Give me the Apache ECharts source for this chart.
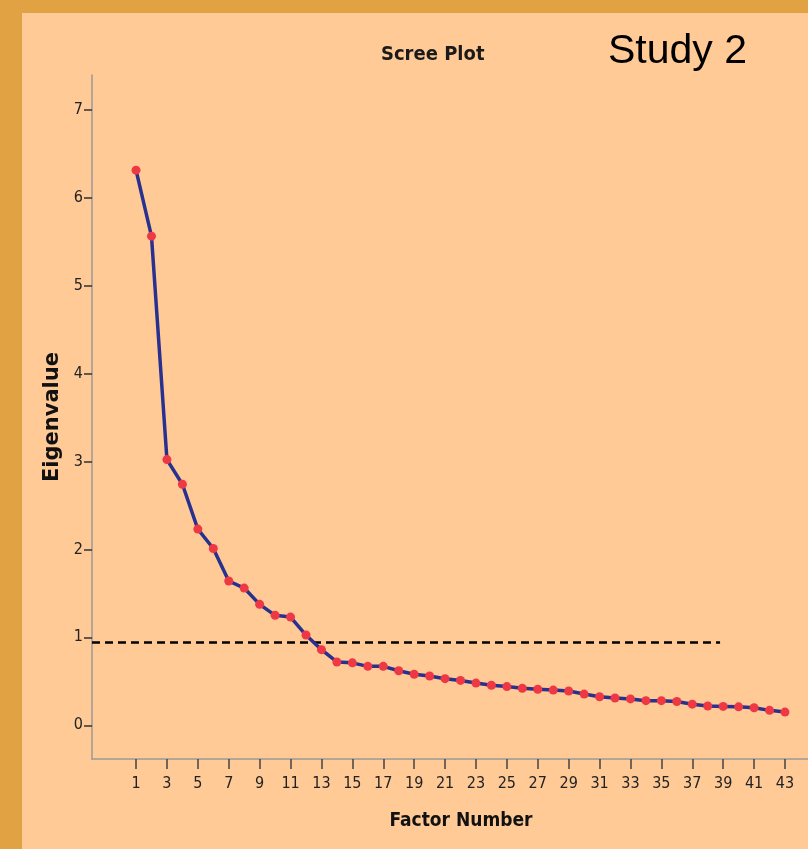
<!DOCTYPE html>
<html>
<head>
<meta charset="utf-8">
<script src="https://cdn.jsdelivr.net/npm/echarts@6/dist/echarts.min.js"></script>
<style>
html,body{margin:0;padding:0;background:#FFCA96;}
#chart{width:808px;height:849px;}
</style>
</head>
<body>
<div id="chart"></div>
<script>
// ---- data ----
const factors = [1,2,3,4,5,6,7,8,9,10,11,12,13,14,15,16,17,18,19,20,21,22,23,24,25,26,27,28,29,30,31,32,33,34,35,36,37,38,39,40,41,42,43];
const eigenvalues = [6.31,5.56,3.02,2.74,2.23,2.01,1.64,1.56,1.375,1.25,1.23,1.026,0.86,0.72,0.71,0.67,0.67,0.62,0.58,0.56,0.53,0.51,0.48,0.455,0.44,0.42,0.41,0.40,0.39,0.355,0.325,0.31,0.30,0.28,0.28,0.27,0.24,0.22,0.215,0.21,0.20,0.17,0.15];
const xTickValues = [1,3,5,7,9,11,13,15,17,19,21,23,25,27,29,31,33,35,37,39,41,43];
const yTickValues = [0,1,2,3,4,5,6,7];
const cutoffValue = 0.94;
const cutoffStart = -1.85;
const cutoffEnd = 38.8;

const narrow = '"Liberation Sans Narrow", "Arial Narrow", "DejaVu Sans Condensed", sans-serif';

const chart = echarts.init(document.getElementById('chart'), null, {renderer:'canvas'});
chart.setOption({
  backgroundColor: '#FFCA96',
  animation: false,
  graphic: [
    {type:'rect', left:0, top:0, shape:{width:22, height:849}, style:{fill:'#E1A243'}, z:-10},
    {type:'rect', left:0, top:0, shape:{width:808, height:13}, style:{fill:'#E1A243'}, z:-10}
  ],
  title: [
    {text:'Scree Plot', left:376, top:40, textStyle:{fontFamily:narrow, fontWeight:'bold', fontSize:20, color:'#1a1a1a'}},
    {text:'Study 2', left:603, top:26, textStyle:{fontFamily:'"Liberation Sans", Arial, sans-serif', fontWeight:'normal', fontSize:41, color:'#000'}}
  ],
  grid: {left:92, top:75, right:0, bottom:90, containLabel:false},
  xAxis: {
    type:'value', min:-1.85, max:44.49,
    name:'Factor Number', nameLocation:'middle', nameGap:53,
    nameTextStyle:{fontFamily:narrow, fontWeight:'bold', fontSize:19, color:'#111', padding:[0,0,0,22]},
    axisLine:{show:true, onZero:false, lineStyle:{color:'#9a9a9a', width:1.5}},
    axisTick:{show:true, length:10, customValues:xTickValues, lineStyle:{color:'#444', width:1.5}},
    axisLabel:{customValues:xTickValues, margin:17, fontFamily:narrow, fontSize:16, color:'#222'},
    splitLine:{show:false}
  },
  yAxis: {
    type:'value', min:-0.383, max:7.392,
    name:'Eigenvalue', nameLocation:'middle', nameRotate:90, nameGap:22,
    nameTextStyle:{fontFamily:'"DejaVu Sans", sans-serif', fontWeight:'bold', fontSize:21, color:'#111'},
    axisLine:{show:true, onZero:false, lineStyle:{color:'#9a9a9a', width:1.5}},
    axisTick:{show:true, length:8, customValues:yTickValues, lineStyle:{color:'#333', width:1.5}},
    axisLabel:{customValues:yTickValues, margin:9, fontFamily:narrow, fontSize:16, color:'#222'},
    splitLine:{show:false}
  },
  series: [
    {
      type:'line',
      data:[[cutoffStart, cutoffValue],[cutoffEnd, cutoffValue]],
      symbol:'none',
      lineStyle:{color:'#000', width:2.5, type:[8,5]},
      z:1
    },
    {
      type:'line',
      data: factors.map((f,i)=>[f, eigenvalues[i]]),
      symbol:'circle', symbolSize:9,
      itemStyle:{color:'#EE3844', borderWidth:0},
      lineStyle:{color:'#28318F', width:3.5},
      z:2
    }
  ]
});
</script>
</body>
</html>
